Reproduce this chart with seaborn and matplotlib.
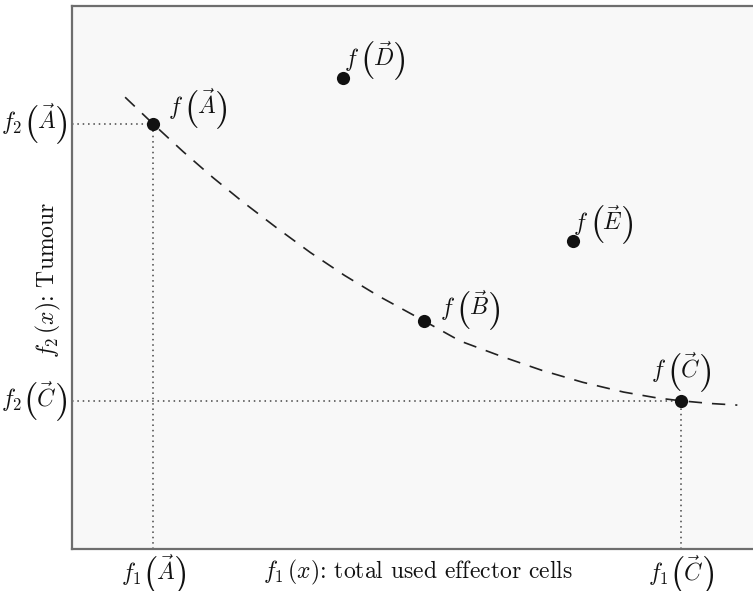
import matplotlib
matplotlib.use("Agg")
import matplotlib.pyplot as plt
import seaborn as sns
import pandas as pd
from matplotlib.offsetbox import TextArea, HPacker, DrawingArea, AnnotationBbox
from matplotlib.text import Text

sns.set_theme(style="white")
plt.rcParams["mathtext.fontset"] = "cm"
plt.rcParams["font.family"] = ["cmr10", "DejaVu Serif"]
plt.rcParams["axes.formatter.use_mathtext"] = True

# Objective-space solutions
point_names = ["A", "B", "C", "D", "E"]
f1_values = [11.9, 51.7, 89.4, 39.8, 73.6]
f2_values = [78.3, 42.0, 27.3, 86.7, 56.7]

# Pareto front sketch
front_f1 = [7.8, 11.9, 16.3, 20.7, 25.0, 30.0, 35.0, 40.0, 45.0, 51.7,
            57.0, 63.0, 69.0, 75.0, 81.0, 86.0, 89.4, 93.7, 97.7]
front_f2 = [83.2, 78.3, 73.2, 68.4, 64.0, 59.2, 54.6, 50.4, 46.6, 42.0,
            38.3, 35.5, 32.9, 30.7, 28.9, 27.8, 27.3, 26.8, 26.5]

# Tick labels: (prefix, solution)
x_tick_labels = [(r"$f_1$", "A"), (r"$f_1$", "C")]
y_tick_labels = [(r"$f_2$", "A"), (r"$f_2$", "C")]

INK = "#111111"
FS = 17
PAREN_FS = 27

points = pd.DataFrame({"name": point_names, "f1": f1_values, "f2": f2_values})
front = pd.DataFrame({"f1": front_f1, "f2": front_f2})
pt = points.set_index("name")


def paren_box(ch):
    """Tall delimiter, lowered so it sits symmetric about the math axis."""
    if ch == "(":
        da = DrawingArea(10.2, 28.4, 0, 10.2, clip=False)
        x0 = 1.0
    else:
        da = DrawingArea(7.4, 28.4, 0, 10.2, clip=False)
        x0 = -1.4
    da.add_artist(Text(x0, -3.2, f"${ch}$", fontsize=PAREN_FS,
                       va="baseline", ha="left", color=INK))
    return da


def vec_label(prefix, letter):
    return HPacker(children=[
        TextArea(prefix, textprops=dict(fontsize=FS, color=INK)),
        paren_box("("),
        TextArea(rf"$\vec{{{letter}}}$", textprops=dict(fontsize=FS, color=INK)),
        paren_box(")"),
    ], align="baseline", pad=0, sep=0)


fig = plt.figure(figsize=(7.53, 5.91), dpi=100)
ax = fig.add_axes([72 / 753, 42 / 591, 1 - 72 / 753, 543 / 591])
ax.set_facecolor("#f8f8f8")
ax.set_xlim(0, 100)
ax.set_ylim(0, 100)

# Guide lines from A and C to the axes
guide = dict(color="#444444", lw=1.1, ls=(0, (1, 2.5)), zorder=1)
for n in ["A", "C"]:
    x, y = pt.loc[n, "f1"], pt.loc[n, "f2"]
    ax.plot([0, x], [y, y], **guide)
    ax.plot([x, x], [0, y], **guide)

sns.lineplot(data=front, x="f1", y="f2", sort=False, ax=ax, color="#222222",
             lw=1.2, zorder=2)
ax.lines[-1].set_linestyle((0, (8, 6)))

sns.scatterplot(data=points, x="f1", y="f2", ax=ax, color=INK, s=90,
                edgecolor=INK, linewidth=0, zorder=3, legend=False)

# Point annotations: offsets in points and horizontal anchor
label_offsets = {"A": (10.8, 10.8, 0.0), "B": (11.5, 8.0, 0.0), "C": (0.0, 21.0, 0.5),
                 "D": (0.7, 13.0, 0.0), "E": (0.0, 12.2, 0.0)}
for n in point_names:
    dx, dy, hx = label_offsets[n]
    ab = AnnotationBbox(vec_label(r"$f$", n), (pt.loc[n, "f1"], pt.loc[n, "f2"]),
                        xybox=(dx, dy), boxcoords="offset points",
                        box_alignment=(hx, 0.5), frameon=False, pad=0,
                        annotation_clip=False)
    ax.add_artist(ab)

# Axis ticks at solutions A and C
x_ticks = [pt.loc[s, "f1"] for _, s in x_tick_labels]
y_ticks = [pt.loc[s, "f2"] for _, s in y_tick_labels]
ax.set_xticks(x_ticks)
ax.set_yticks(y_ticks)
ax.set_xticklabels([])
ax.set_yticklabels([])
ax.tick_params(axis="both", length=0)

for (prefix, s), xv in zip(x_tick_labels, x_ticks):
    ax.add_artist(AnnotationBbox(vec_label(prefix, s), (xv, 0),
                                 xycoords=("data", "axes fraction"),
                                 xybox=(0, -4.2), boxcoords="offset points",
                                 box_alignment=(0.5, 1.0), frameon=False, pad=0,
                                 annotation_clip=False))
for (prefix, s), yv in zip(y_tick_labels, y_ticks):
    ax.add_artist(AnnotationBbox(vec_label(prefix, s), (0, yv),
                                 xycoords=("axes fraction", "data"),
                                 xybox=(-4.3, 0), boxcoords="offset points",
                                 box_alignment=(1.0, 0.5), frameon=False, pad=0,
                                 annotation_clip=False))

ax.set_xlabel(r"$f_1\,(x)$: total used effector cells", fontsize=FS, color=INK)
ax.xaxis.label.set_va("center")
ax.xaxis.set_label_coords(0.508, -0.044)
ax.set_ylabel(r"$f_2\,(x)$: Tumour", fontsize=FS, color=INK)
ax.yaxis.label.set_va("center")
ax.yaxis.set_label_coords(-0.034, 0.495)

for side in ["left", "bottom", "top"]:
    ax.spines[side].set_color("#6e6e6e")
    ax.spines[side].set_linewidth(1.6)
ax.spines["right"].set_visible(False)

fig.savefig("out.png", dpi=100, facecolor="white")
